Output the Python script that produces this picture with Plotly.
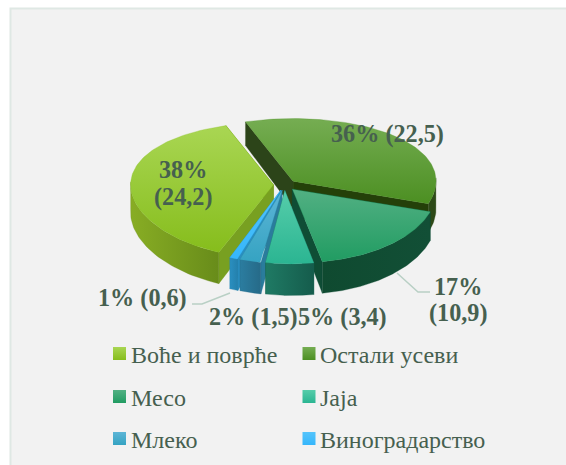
import numpy as np
import plotly.graph_objects as go

categories = ["Воће и поврће", "Остали усеви", "Месо", "Јаја", "Млеко", "Виноградарство"]
values = [24.2, 22.5, 10.9, 3.4, 1.5, 0.6]
percents = [38, 36, 17, 5, 2, 1]

# styling
top_colors = [("#a9d653", "#86bd1c"), ("#75ad52", "#4c8f22"), ("#52b083", "#219c62"),
              ("#56cdaa", "#2bb592"), ("#5db5d6", "#35a3c2"), ("#55c4fb", "#35b6fb")]
wall_colors = [("#88ad24", "#688c1a"), ("#2e4a18", "#2e4a18"), ("#0f4a30", "#124f36"),
               ("#1f7a64", "#155c4c"), ("#2b7da0", "#266a88"), ("#2a8fc0", "#2480ac")]
radial_colors = [("#78a021", "#78a021"), ("#2c4419", "#244009"), ("#0f4d35", "#0f4d35"),
                 ("#1a6a58", "#1a6a58"), ("#2a7c9c", "#2a7c9c"), ("#2a8fc0", "#2a8fc0")]
rim_shift = [0, 0, 8, 7, 5, 4]
label_pos = [[(183, 169), (183, 197)], [(387, 134)], [(458, 286), (458, 313)],
             [(342, 317)], [(253, 317)], [(142, 298)]]
legend_x = [119.5, 309]
legend_y = [353.5, 396.5, 438.5]
text_color = "#46604f"

CX, CY, A, B, KY, EXPLODE, DEPTH = 285, 185, 143, 68, 0.08, 0.08, 27.5
START = -157.5
DRAW_ORDER = [1, 0, 2, 5, 4, 3]

shares = np.array(values) / sum(values) * 360
edges = START + np.concatenate([[0], np.cumsum(shares)])


def rim(theta, shift):
    t = np.radians(theta)
    c = np.cos(t)
    return A * np.sin(t) + shift * np.maximum(0, -c), -B * c * (1 - KY * c)


def depth(theta):
    return DEPTH * (1 - 0.15 * np.cos(np.radians(theta)))


fig = go.Figure()


def poly(xs, ys, c0, c1, orient):
    # the y axis runs downwards, so a vertical gradient is given bottom colour first
    scale = [[0, c1], [1, c0]] if orient == "vertical" else [[0, c0], [1, c1]]
    fig.add_trace(go.Scatter(
        x=xs, y=ys, mode="lines", fill="toself", line=dict(width=0.3, color=c1),
        fillgradient=dict(type=orient, colorscale=scale),
        hoverinfo="skip", showlegend=False))


for i in DRAW_ORDER:
    a0, a1 = edges[i], edges[i + 1]
    mid = (a0 + a1) / 2
    ax = CX + EXPLODE * A * np.sin(np.radians(mid))
    ay = CY - EXPLODE * B * np.cos(np.radians(mid))
    th = np.linspace(a0, a1, 90)
    rx, ry = rim(th, rim_shift[i])
    rx, ry = ax + rx, ay + ry
    d = depth(th)
    dc = depth(90)
    # radial walls
    for (px, py), dd, col in (((rx[-1], ry[-1]), d[-1], radial_colors[i][1]),
                              ((rx[0], ry[0]), d[0], radial_colors[i][0])):
        poly([ax, px, px, ax, ax], [ay, py, py + dd, ay + dc, ay], col, col, "vertical")
    # outer wall
    mask = np.cos(np.radians(th)) < 0.05
    if mask.sum() > 1:
        wx, wy, wd = rx[mask], ry[mask], d[mask]
        poly(np.r_[wx, wx[::-1], wx[0]], np.r_[wy, (wy + wd)[::-1], wy[0]],
             wall_colors[i][0], wall_colors[i][1], "horizontal")
    # top face
    poly(np.r_[ax, rx, ax], np.r_[ay, ry, ay], top_colors[i][0], top_colors[i][1], "vertical")

# legend swatches
for i, name in enumerate(categories):
    col, row = i % 2, i // 2
    fig.add_trace(go.Scatter(
        x=[legend_x[col]], y=[legend_y[row]], mode="markers",
        marker=dict(symbol="square", size=13, color=top_colors[i][0], line=dict(width=0),
                    gradient=dict(type="vertical", color=top_colors[i][1])),
        hoverinfo="skip", showlegend=False))
    fig.add_annotation(x=legend_x[col] + 9, y=legend_y[row] + 1.5, text=name,
                       showarrow=False, xanchor="left", yanchor="middle",
                       font=dict(family="Liberation Serif", size=24, color=text_color))

# data labels
for i in range(len(values)):
    v = str(values[i]).replace(".", ",")
    parts = [f"{percents[i]}%", f"({v})"]
    if len(label_pos[i]) == 1:
        parts = [" ".join(parts)]
    for txt, (lx, ly) in zip(parts, label_pos[i]):
        fig.add_annotation(x=lx, y=ly, text=f"<b>{txt}</b>", showarrow=False,
                           xanchor="center", yanchor="middle",
                           font=dict(family="Liberation Serif", size=24.2, color=text_color))

line_style = dict(color="#b9d0c5", width=1.5)
shapes = [
    dict(type="rect", x0=10.5, y0=8.5, x1=580, y1=480, fillcolor="#f2f2f2",
         line=dict(color="#dfe8e4", width=2), layer="below"),
    dict(type="path", path="M397,273 L418,292 L430,292", line=line_style, layer="below"),
    dict(type="path", path="M230,293 L202,304 L192,304", line=line_style, layer="below"),
]

fig.update_layout(
    width=566, height=465, margin=dict(l=0, r=0, t=0, b=0),
    paper_bgcolor="white", plot_bgcolor="rgba(0,0,0,0)", shapes=shapes, showlegend=False,
    xaxis=dict(range=[0, 566], visible=False, fixedrange=True),
    yaxis=dict(range=[465, 0], visible=False, fixedrange=True),
)
fig.write_html("out.html", config=dict(displayModeBar=False),
               post_script="document.body.style.margin='0';document.documentElement.style.overflow='hidden';")
